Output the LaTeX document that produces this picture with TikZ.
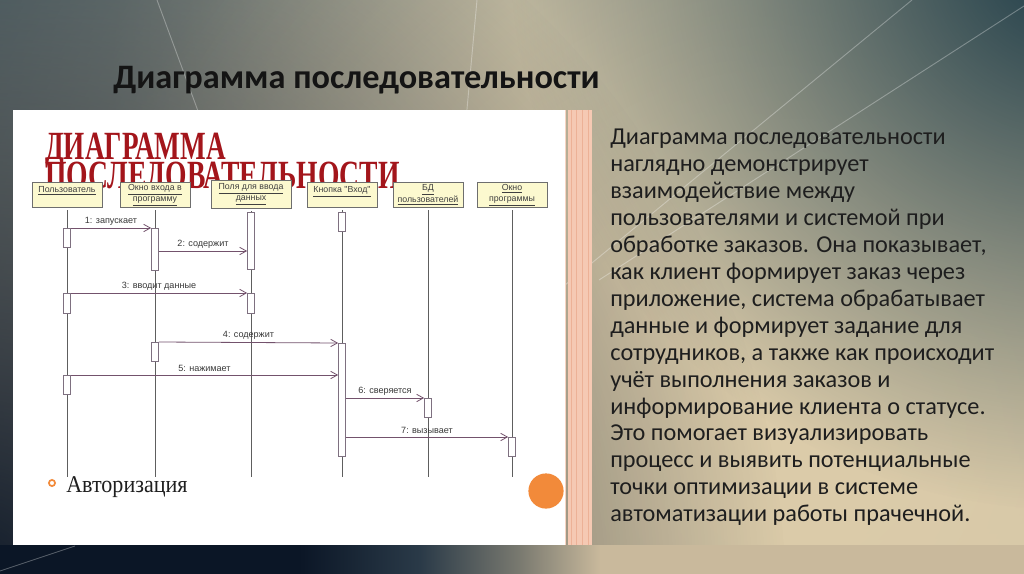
\documentclass[tikz,border=0pt]{standalone}
\usepackage{graphicx}
\usepackage{fontspec}
\setmainfont{Carlito}
\newfontfamily\serifb{Liberation Serif}
\newfontfamily\arialf{Liberation Sans}
\usetikzlibrary{arrows.meta,fadings,calc}

\definecolor{bgtop}{HTML}{52666C}
\definecolor{bgbot}{HTML}{BCB09A}
\definecolor{glow}{HTML}{DCCCAA}
\definecolor{midglow}{HTML}{9EA49A}
\definecolor{darkteal}{HTML}{1E3C48}
\definecolor{navy}{HTML}{0B1626}
\definecolor{band2}{HTML}{2A3A48}
\definecolor{band3}{HTML}{7A7A70}
\definecolor{band4}{HTML}{C9B99C}
\definecolor{redhead}{HTML}{A3151B}
\definecolor{boxfill}{HTML}{FCF9CF}
\definecolor{boxline}{HTML}{6E6E6E}
\definecolor{actline}{HTML}{7E7080}
\definecolor{msgc}{HTML}{73526C}
\definecolor{lifec}{HTML}{5E5E5E}
\definecolor{stripe}{HTML}{F5C9B3}
\definecolor{stripeline}{HTML}{ECB196}
\definecolor{orangec}{HTML}{F28A3A}
\definecolor{bodytext}{HTML}{1E1E1E}

\tikzfading[name=glowfade, inner color=transparent!0, outer color=transparent!100]
\pgfdeclarehorizontalshading{bandsh}{100bp}{color(0bp)=(navy); color(39.6bp)=(navy);
  color(45.5bp)=(band2); color(50.4bp)=(band3); color(54.3bp)=(band4); color(100bp)=(band4)}

\newcommand\actbox[4]{\node[act, minimum height={(#4-#3)*0.75pt}] (#1) at (#2,#3) {};}

\begin{document}
\begin{tikzpicture}[x=0.75pt,y=-0.75pt,
  hbox/.style={draw=boxline, fill=boxfill, line width=0.5pt, minimum width=52.5pt,
    minimum height=18.75pt, inner sep=0.5pt, anchor=north,
    font=\arialf\fontsize{6.6}{8.2}\selectfont, text=black!75, align=center},
  act/.style={draw=actline, fill=white, line width=0.5pt, minimum width=5.25pt,
    inner sep=0pt, anchor=north},
  life/.style={draw=lifec, line width=0.6pt},
  msg/.style={draw=msgc, line width=0.6pt,
    -{Straight Barb[length=5pt,width=5.5pt,line width=0.6pt]}},
  lbl/.style={above, font=\arialf\fontsize{6.8}{8}\selectfont, text=black!78, inner sep=2pt},
  bodyline/.style={anchor=base west, inner sep=0pt,
    font=\fontsize{18.2}{21}\selectfont, text=bodytext},
  faint/.style={draw=white, opacity=0.3, line width=0.7pt}]
\useasboundingbox (0,0) rectangle (1024,574);

% ---------- background ----------
\shade[top color=bgtop, bottom color=bgbot] (0,0) rectangle (1024,574);
\begin{scope}
  \clip (0,0) rectangle (1024,574);
  \fill[midglow, path fading=glowfade] (720,90) circle [radius=460pt];
  \fill[glow, path fading=glowfade] (770,430) circle [radius=800pt];
  \fill[glow, path fading=glowfade] (800,440) circle [radius=560pt];
  \fill[darkteal, path fading=glowfade] (1070,-50) circle [radius=420pt];
  \fill[navy, path fading=glowfade] (-40,600) circle [radius=620pt];
  \shade[shading=bandsh] (0,545) rectangle (1024,574);
  \draw[faint] (157,0) -- (205,130);
  \draw[faint] (477,0) -- (466,120);
  \draw[faint] (912,0) -- (559,290);
  \draw[faint] (1024,6) -- (599,280);
  \draw[faint] (0,571) -- (75,546);
\end{scope}

% ---------- title ----------
\node[anchor=base west, inner sep=0pt, font=\fontsize{25.7}{30}\selectfont\bfseries, text=black!92]
  (title) at (113,89) {Диаграмма последовательности};

% ---------- slide picture ----------
\fill[white] (13,110) rectangle (566,545);
\draw[stripe!80, line width=0.6pt] (565,110) -- (565,545);
\fill[stripe] (568,110) rectangle (592,545);
\foreach \sx in {571,576,582,588}{\draw[stripeline, line width=0.5pt] (\sx,110) -- (\sx,545);}

\node[anchor=base west, inner sep=0pt, text=redhead] (rh1) at (45,160)
  {\scalebox{0.68}[1]{\serifb\bfseries\fontsize{30}{30}\selectfont ДИАГРАММА}};
\node[anchor=base west, inner sep=0pt, text=redhead] (rh2) at (45,189)
  {\scalebox{0.69}[1]{\serifb\bfseries\fontsize{30}{30}\selectfont ПОСЛЕДОВАТЕЛЬНОСТИ}};

% header boxes
\node[hbox] (h1) at (67,182) {\underline{Пользователь}\\\mbox{}};
\node[hbox] (h2) at (155,182) {\underline{Окно входа в}\\\underline{программу}};
\node[hbox, minimum width=60pt, minimum height=21pt] (h3) at (251,180) {\underline{Поля для ввода}\\\underline{данных}};
\node[hbox] (h4) at (342,182) {\underline{Кнопка "Вход"}\\\mbox{}};
\node[hbox] (h5) at (428,182) {\underline{БД}\\\underline{пользователей}};
\node[hbox] (h6) at (512,182) {\underline{Окно}\\\underline{программы}};

% lifeline ends
\coordinate (e1) at (67,477);
\coordinate (e2) at (155,477);
\coordinate (e3) at (251,477);
\coordinate (e4) at (342,477);
\coordinate (e5) at (428,477);
\coordinate (e6) at (512,477);
\foreach \i in {1,...,6}{\draw[life] ([yshift=-2pt]h\i.south) -- (e\i);}

% activation boxes
\actbox{A1}{67}{228}{247}
\actbox{A2}{67}{293}{313}
\actbox{A3}{67}{375}{394}
\actbox{B1}{155}{228}{270}
\actbox{B2}{155}{342}{361}
\actbox{C1}{251}{212}{269}
\actbox{C2}{251}{293}{313}
\actbox{D0}{342}{212}{231}
\actbox{D1}{342}{343}{456}
\actbox{E1}{428}{398}{417}
\actbox{F1}{512}{437}{456}

% messages
\coordinate (m2y) at (0,251);
\draw[msg] (A1.north east) -- node[lbl] {1: запускает} (B1.north west);
\draw[msg] (B1.east |- m2y) -- node[lbl] {2: содержит} (C1.west |- m2y);
\draw[msg] (A2.north east) -- node[lbl] {3: вводит данные} (C2.north west);
\draw[msg] (B2.north east) -- node[lbl] {4: содержит} (D1.north west);
\draw[msg] (A3.north east) -- node[lbl] {5: нажимает} (D1.west |- A3.north);
\draw[msg] (D1.east |- E1.north) -- node[lbl] {6: сверяется} (E1.north west);
\draw[msg] (D1.east |- F1.north) -- node[lbl] {7: вызывает} (F1.north west);

% bullet and orange circle
\draw[orangec, line width=1.3pt] (52,483) circle [radius=2.3pt];
\node[anchor=base west, inner sep=0pt, text=black!88] (auth) at (66,492)
  {\scalebox{0.92}[1]{\serifb\fontsize{18}{20}\selectfont Авторизация}};
\fill[orangec] (546,491) circle [radius=13.2pt];

% ---------- body text ----------
\foreach \t [count=\i] in {
  Диаграмма последовательности,
  наглядно демонстрирует,
  взаимодействие между,
  пользователями и системой при,
  {обработке заказов. Она показывает,},
  как клиент формирует заказ через,
  {приложение, система обрабатывает},
  данные и формирует задание для,
  {сотрудников, а также как происходит},
  учёт выполнения заказов и,
  информирование клиента о статусе.,
  Это помогает визуализировать,
  процесс и выявить потенциальные,
  точки оптимизации в системе,
  автоматизации работы прачечной.}
{\node[bodyline] (t\i) at (610,{145+26.9*(\i-1)}) {\t};}
\end{tikzpicture}
\end{document}
